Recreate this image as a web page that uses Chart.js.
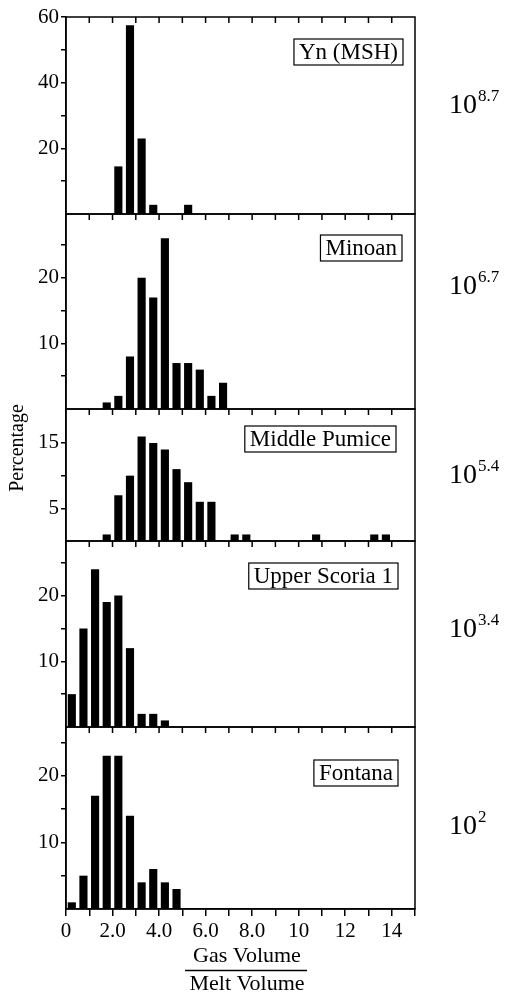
<!DOCTYPE html>
<html>
<head>
<meta charset="utf-8">
<script src="https://cdn.jsdelivr.net/npm/chart.js@4.4.1/dist/chart.umd.min.js"></script>
<style>
  html, body { margin: 0; padding: 0; background: #fff; }
  #wrap { position: relative; width: 505px; height: 994px; }
</style>
</head>
<body>
<div id="wrap"><canvas id="c" width="505" height="994"></canvas></div>
<script>
// panels, top to bottom
const panelNames = ['Yn (MSH)', 'Minoan', 'Middle Pumice', 'Upper Scoria 1', 'Fontana'];
const eruptionExp = ['8.7', '6.7', '5.4', '3.4', '2'];

// bin centres (gas/melt volume) and percentages
const ynBins = [2.25, 2.75, 3.25, 3.75, 5.25];
const ynPct = [14.5, 57.5, 23, 2.8, 2.8];

const minoanBins = [1.75, 2.25, 2.75, 3.25, 3.75, 4.25, 4.75, 5.25, 5.75, 6.25, 6.75];
const minoanPct = [1, 2, 8, 20, 17, 26, 7, 7, 6, 2, 4];

const pumiceBins = [1.75, 2.25, 2.75, 3.25, 3.75, 4.25, 4.75, 5.25, 5.75, 6.25, 7.25, 7.75, 10.75, 13.25, 13.75];
const pumicePct = [1, 7, 10, 16, 15, 14, 11, 9, 6, 6, 1, 1, 1, 1, 1];

const scoriaBins = [0.25, 0.75, 1.25, 1.75, 2.25, 2.75, 3.25, 3.75, 4.25];
const scoriaPct = [5, 15, 24, 19, 20, 12, 2, 2, 1];

const fontanaBins = [0.25, 0.75, 1.25, 1.75, 2.25, 2.75, 3.25, 3.75, 4.25, 4.75];
const fontanaPct = [1, 5, 17, 23, 23, 14, 4, 6, 4, 3];

// axis ticks
const xTickValues = [0, 2, 4, 6, 8, 10, 12, 14];
const xTickLabels = ['0', '2.0', '4.0', '6.0', '8.0', '10', '12', '14'];
const yMax = [60, 29.7, 20.2, 28.3, 27.3];
const yTicks = [[10, 20, 30, 40, 50, 60], [5, 10, 15, 20, 25], [5, 10, 15], [5, 10, 15, 20, 25], [5, 10, 15, 20, 25]];
const yTickLabels = [[20, 40, 60], [10, 20], [5, 15], [10, 20], [10, 20]];

const bins = [ynBins, minoanBins, pumiceBins, scoriaBins, fontanaBins];
const pcts = [ynPct, minoanPct, pumicePct, scoriaPct, fontanaPct];

// layout (pixels)
const panelHeights = [197, 195, 132, 186, 182];
const labelTop = [22, 21, 17, 22, 33];
const labelRight = [403, 402, 396, 398, 398];
const expBaseline = [113, 294, 483, 637, 834];

const SERIF = '"Liberation Serif", "Times New Roman", serif';
Chart.defaults.font.family = SERIF;
Chart.defaults.color = '#000';

const ids = panelNames.map((_, i) => 'y' + i);

const datasets = panelNames.map((name, i) => ({
  label: name,
  data: bins[i].map((b, j) => ({ x: b, y: pcts[i][j] })),
  yAxisID: ids[i],
  backgroundColor: '#000',
  borderWidth: 0,
  grouped: false,
  barPercentage: 0.7,
  categoryPercentage: 1
}));

const scales = {
  x: {
    type: 'linear', position: 'bottom', min: 0, max: 15, offset: false,
    afterFit: s => { s.height = 85; },
    ticks: {
      stepSize: 1, autoSkip: false, maxRotation: 0, padding: 3,
      font: { size: 21 },
      callback: v => { const k = xTickValues.indexOf(v); return k >= 0 ? xTickLabels[k] : ''; }
    },
    grid: { offset: false, drawOnChartArea: false, tickLength: 7, color: '#000', lineWidth: 1.5 },
    border: { color: '#000', width: 1.5 }
  }
};
ids.forEach((id, i) => {
  scales[id] = {
    type: 'linear', position: 'left', stack: 'panels', stackWeight: panelHeights[i], weight: 5 - i,
    min: 0, max: yMax[i],
    afterBuildTicks: s => { s.ticks = yTicks[i].map(v => ({ value: v })); },
    afterFit: s => { s.width = 66; },
    ticks: {
      autoSkip: false, padding: 2, font: { size: 21 },
      callback: v => yTickLabels[i].includes(v) ? String(v) : ''
    },
    grid: { drawOnChartArea: false, tickLength: 5, color: '#000', lineWidth: 1.5 },
    border: { color: '#000', width: 1.5 }
  };
});

const decor = {
  id: 'decor',
  afterDraw(chart) {
    const ctx = chart.ctx;
    const xs = chart.scales.x;
    const L = chart.chartArea.left, R = chart.chartArea.right;
    ctx.save();
    ctx.strokeStyle = '#000';
    ctx.fillStyle = '#000';
    ctx.lineWidth = 1.5;
    ids.forEach((id, i) => {
      const s = chart.scales[id];
      ctx.strokeRect(L, s.top, R - L, s.bottom - s.top);
      // inward ticks on the top edge
      ctx.beginPath();
      for (let v = 1; v < 15; v++) {
        const px = xs.getPixelForValue(v);
        ctx.moveTo(px, s.top);
        ctx.lineTo(px, s.top + 6);
      }
      ctx.stroke();
      // boxed panel label
      ctx.font = '23px ' + SERIF;
      const w = ctx.measureText(panelNames[i]).width + 10;
      const top = s.top + labelTop[i];
      ctx.lineWidth = 1.2;
      ctx.strokeRect(labelRight[i] - w, top, w, 26);
      ctx.textAlign = 'center';
      ctx.textBaseline = 'middle';
      ctx.fillText(panelNames[i], labelRight[i] - w / 2, top + 14);
      ctx.lineWidth = 1.5;
      // eruption size on the right
      ctx.textAlign = 'left';
      ctx.textBaseline = 'alphabetic';
      ctx.font = '28px ' + SERIF;
      ctx.fillText('10', 449, expBaseline[i]);
      const w10 = ctx.measureText('10').width;
      ctx.font = '17px ' + SERIF;
      ctx.fillText(eruptionExp[i], 449 + w10 + 1, expBaseline[i] - 12);
    });
    // y title
    ctx.save();
    ctx.translate(18, 448);
    ctx.rotate(-Math.PI / 2);
    ctx.font = '20px ' + SERIF;
    ctx.textAlign = 'center';
    ctx.textBaseline = 'middle';
    ctx.fillText('Percentage', 0, 0);
    ctx.restore();
    // x title as a fraction
    ctx.font = '22px ' + SERIF;
    ctx.textAlign = 'center';
    ctx.textBaseline = 'alphabetic';
    ctx.fillText('Gas Volume', 247, 962);
    ctx.fillText('Melt Volume', 247, 990);
    ctx.beginPath();
    ctx.moveTo(185, 970.5);
    ctx.lineTo(307, 970.5);
    ctx.stroke();
    ctx.restore();
  }
};

new Chart(document.getElementById('c'), {
  type: 'bar',
  data: { datasets },
  options: {
    responsive: false,
    animation: false,
    devicePixelRatio: 1,
    layout: { padding: { top: 17, right: 90, left: 0, bottom: 0 } },
    plugins: { legend: { display: false }, tooltip: { enabled: false } },
    scales
  },
  plugins: [decor]
});
</script>
</body>
</html>
